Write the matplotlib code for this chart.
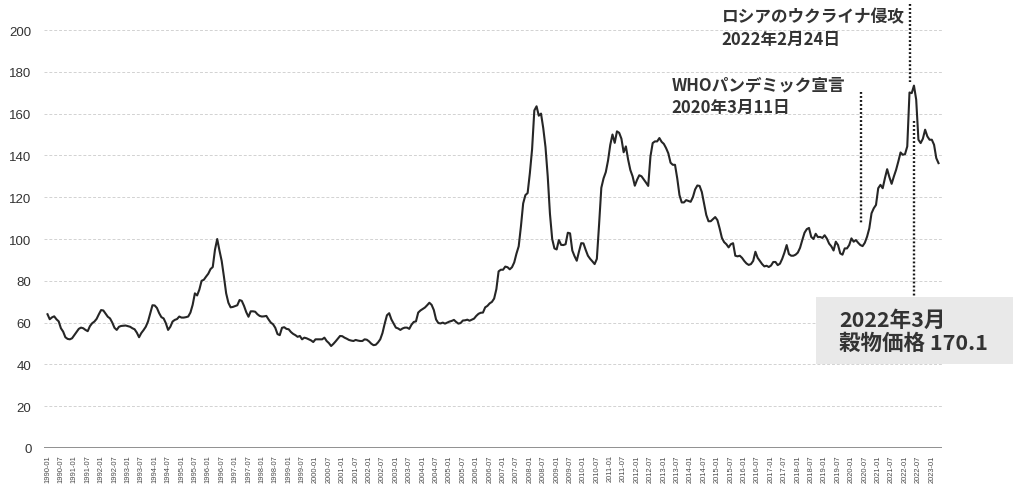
import matplotlib
matplotlib.use("Agg")
import matplotlib.pyplot as plt
import numpy as np
from matplotlib.patches import Rectangle

# FAO cereal price index, monthly from 1990-01 to 2023-04
cereal_price_index = [
    64.0, 61.6, 62.5, 63.0, 61.6, 60.6, 57.3, 55.7, 53.0, 52.2, 52.0, 52.5,        # 1990
    54.0, 55.5, 57.0, 57.6, 57.3, 56.5, 55.9, 58.3, 59.7, 60.5, 61.8, 64.0,        # 1991
    66.0, 65.8, 64.3, 62.8, 62.0, 60.0, 57.5, 56.5, 58.0, 58.4, 58.5, 58.6,        # 1992
    58.3, 58.0, 57.3, 56.8, 55.2, 53.0, 55.0, 56.4, 58.0, 60.5, 64.5, 68.3,        # 1993
    68.2, 67.0, 64.5, 62.6, 62.0, 59.7, 56.5, 58.0, 60.5, 61.3, 61.7, 62.9,        # 1994
    62.4, 62.4, 62.6, 62.9, 64.8, 68.5, 74.0, 73.0, 75.8, 80.0, 80.5, 82.0,        # 1995
    83.4, 85.6, 86.6, 94.9, 100.0, 94.5, 89.5, 82.0, 74.0, 69.5, 67.3, 67.5,       # 1996
    67.9, 68.3, 70.8, 70.4, 68.0, 65.0, 62.8, 65.4, 65.4, 65.2, 64.0, 63.2,        # 1997
    62.9, 63.0, 63.2, 61.5, 60.0, 59.2, 57.5, 54.5, 54.0, 57.5, 57.8, 57.0,        # 1998
    56.8, 55.5, 54.6, 54.0, 53.2, 53.6, 52.0, 52.8, 52.5, 52.0, 51.5, 50.7,        # 1999
    52.0, 52.0, 52.0, 52.0, 52.8, 51.2, 50.2, 48.8, 49.8, 51.0, 52.3, 53.6,        # 2000
    53.5, 52.8, 52.3, 51.7, 51.4, 51.2, 51.7, 51.4, 51.2, 51.2, 52.0, 51.8,        # 2001
    51.0, 49.9, 49.2, 49.4, 50.5, 52.0, 55.0, 59.5, 63.5, 64.5, 61.5, 59.5,        # 2002
    57.6, 57.2, 56.5, 57.2, 57.6, 57.6, 57.0, 59.0, 60.3, 60.6, 64.8, 65.8,        # 2003
    66.5, 67.2, 68.3, 69.5, 68.5, 66.0, 61.5, 59.8, 59.6, 60.0, 59.5, 60.0,        # 2004
    60.5, 60.8, 61.3, 60.3, 59.5, 59.8, 61.0, 61.1, 61.4, 60.9, 61.4, 61.9,        # 2005
    63.2, 64.2, 64.7, 64.8, 67.3, 68.0, 69.2, 69.9, 71.5, 76.0, 84.5, 85.3,        # 2006
    85.3, 86.8, 86.5, 85.5, 86.5, 88.8, 93.0, 96.5, 106.0, 117.0, 121.0, 122.0,    # 2007
    131.5, 143.0, 161.5, 163.5, 159.0, 160.0, 153.0, 144.0, 130.0, 112.0, 100.0, 95.5,  # 2008
    95.0, 99.5, 97.2, 97.1, 97.5, 103.0, 102.7, 94.5, 91.8, 89.6, 94.0, 98.0,      # 2009
    97.9, 94.8, 92.0, 90.5, 89.3, 88.0, 90.5, 107.0, 124.5, 129.0, 132.0, 137.5,   # 2010
    145.0, 150.0, 146.0, 151.5, 150.8, 148.0, 141.5, 144.3, 138.0, 133.0, 130.0, 125.5,  # 2011
    128.3, 130.5, 130.0, 128.5, 127.0, 125.4, 139.5, 145.9, 146.7, 146.7, 148.3, 146.5,  # 2012
    145.5, 143.5, 141.0, 136.5, 135.5, 135.5, 129.0, 121.0, 117.5, 117.5, 118.6, 118.2,  # 2013
    117.8, 120.0, 123.7, 125.6, 125.4, 122.5, 117.0, 111.5, 108.5, 108.5, 109.5, 110.5,  # 2014
    109.0, 105.0, 100.5, 98.5, 97.5, 96.0, 97.5, 98.0, 92.0, 91.7, 92.0, 91.0,     # 2015
    89.5, 88.3, 87.6, 88.0, 89.5, 93.9, 91.0, 89.5, 88.0, 86.9, 87.2, 86.6,        # 2016
    87.3, 89.0, 89.0, 87.5, 88.2, 90.5, 93.5, 97.1, 92.8, 92.0, 92.0, 92.5,        # 2017
    93.5, 95.8, 99.5, 103.0, 104.7, 105.3, 101.0, 100.0, 102.5, 100.9, 101.0, 100.5,  # 2018
    101.8, 100.2, 97.8, 96.5, 94.5, 98.7, 97.1, 93.1, 92.5, 95.5, 95.5, 97.1,      # 2019
    100.3, 98.7, 99.5, 98.2, 97.1, 96.6, 98.2, 101.1, 105.1, 112.3, 114.7, 116.3,  # 2020
    124.3, 125.9, 124.3, 129.1, 133.4, 129.6, 126.4, 129.9, 133.1, 137.1, 141.4, 140.3,  # 2021
    140.6, 144.3, 170.1, 169.8, 173.4, 166.7, 147.5, 145.9, 148.0, 152.3, 149.1, 147.5,  # 2022
    147.5, 145.1, 138.7, 136.3,                                                     # 2023
]

first_year = 1990
last_tick_year = 2023
tick_labels = [f"{y}-{m:02d}" for y in range(first_year, last_tick_year + 1) for m in (1, 7)][:-1]
y_ticks = list(range(0, 201, 20))

# Annotated events (month index from 1990-01) and the highlighted value
invasion_month = 386.1
pandemic_month = 364.1
peak_month = 388.2
march_2022_value = 170.1

jp_font = ["Noto Sans CJK JP", "DejaVu Sans"]
text_color = "#333333"

fig = plt.figure(figsize=(10.15, 4.89), dpi=100)
ax = fig.add_axes([0.04335, 0.0818, 0.8846, 0.8548])

x = np.arange(len(cereal_price_index))
ax.plot(x, cereal_price_index, color="#262626", lw=1.5, solid_joinstyle="round", zorder=4)

ax.set_xlim(-1.57, 400.5)
ax.set_ylim(0, 200)

ax.set_yticks(y_ticks)
ax.set_yticklabels([str(v) for v in y_ticks], fontsize=9.5, color=text_color,
                   family="Liberation Sans")
ax.set_xticks(np.arange(len(tick_labels)) * 6)
ax.set_xticklabels(tick_labels, rotation=90, fontsize=5.4, color="#4a4a4a",
                   family="Liberation Sans")
ax.tick_params(axis="both", length=0)
ax.tick_params(axis="y", pad=9)
ax.tick_params(axis="x", pad=4.5)

for s in ax.spines.values():
    s.set_visible(False)

ax.yaxis.grid(True, color="#d2d2d2", linestyle=(0, (3, 2)), lw=0.7, zorder=0)
ax.set_axisbelow(True)
ax.axhline(0, color="#8f8f8f", lw=1.4, zorder=2)

dot = dict(color="#1a1a1a", lw=1.7, linestyle=(0, (0.8, 0.9)), clip_on=False, zorder=5)

# Russia's invasion of Ukraine
ax.plot([invasion_month, invasion_month], [212.4, 175.2], **dot)
ax.text(301.9, 206.7, "ロシアのウクライナ侵攻", family=jp_font, weight="bold",
        fontsize=12, color=text_color, ha="left", va="center")
ax.text(301.9, 195.7, "2022年2月24日", family=jp_font, weight="bold",
        fontsize=12, color=text_color, ha="left", va="center")

# WHO pandemic declaration
ax.plot([pandemic_month, pandemic_month], [170.5, 107.7], **dot)
ax.text(279.5, 173.9, "WHOパンデミック宣言", family=jp_font, weight="bold",
        fontsize=12, color=text_color, ha="left", va="center")
ax.text(279.5, 163.4, "2020年3月11日", family=jp_font, weight="bold",
        fontsize=12, color=text_color, ha="left", va="center")

# Highlight box for the March 2022 value
ax.plot([peak_month, peak_month], [156.5, 72.4], **dot)
ax.add_patch(Rectangle((344.0, 40.2), 88.3, 32.2, facecolor="#e9e9e9",
                       edgecolor="none", clip_on=False, zorder=6))
ax.text(354.4, 61.7, "2022年3月", family=jp_font, weight="bold",
        fontsize=15.5, color=text_color, ha="left", va="center", zorder=7)
ax.text(354.4, 50.5, f"穀物価格 {march_2022_value}", family=jp_font, weight="bold",
        fontsize=15.5, color=text_color, ha="left", va="center", zorder=7)

fig.savefig("out.png", dpi=100)
